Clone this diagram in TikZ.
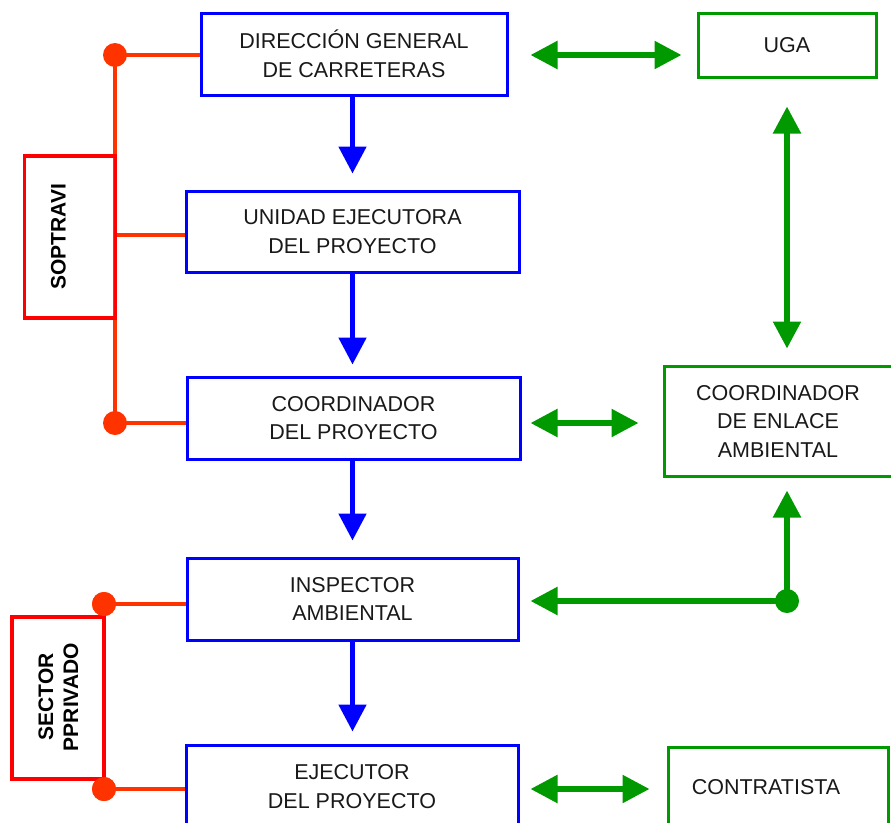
\documentclass[tikz,border=0pt]{standalone}
\usepackage{fontspec}
\setmainfont{Liberation Sans}
\usetikzlibrary{arrows.meta,calc}
\definecolor{flowblue}{RGB}{0,0,255}
\definecolor{envgreen}{RGB}{0,153,0}
\definecolor{linkred}{RGB}{255,51,0}
\definecolor{groupred}{RGB}{255,0,0}
\tikzset{
  boxtext/.style={font=\fontsize{21.5}{28.5}\selectfont, text=black!90, align=center, inner sep=0pt},
  bluebox/.style={boxtext, draw=flowblue, line width=3pt, rectangle},
  greenbox/.style={boxtext, draw=envgreen, line width=3pt, rectangle},
  groupbox/.style={draw=groupred, line width=3.5pt, rectangle, inner sep=0pt},
  grouptext/.style={font=\fontsize{21}{25}\selectfont\bfseries, text=black, align=center, rotate=90, inner sep=0pt},
  reddot/.style={circle, fill=linkred, minimum size=24pt, inner sep=0pt},
  greendot/.style={circle, fill=envgreen, minimum size=24pt, inner sep=0pt},
  redlink/.style={draw=linkred, line width=4pt},
  downflow/.style={draw=flowblue, line width=5pt, -{Triangle[length=27pt,width=27pt]}},
  envflow/.style={draw=envgreen, line width=5.5pt, -{Triangle[length=27pt,width=27pt]}},
  envboth/.style={draw=envgreen, line width=5.5pt, {Triangle[length=27pt,width=27pt]}-{Triangle[length=27pt,width=27pt]}},
}
\begin{document}
\begin{tikzpicture}[x=1pt,y=-1pt]
\useasboundingbox (0,0) rectangle (891,822);
\clip (0,0) rectangle (891,822);
\fill[white] (0,0) rectangle (891,822);

% main chain of the project
\node[bluebox, minimum width=306pt, minimum height=82pt] (dg) at (354,54) {DIRECCIÓN GENERAL\\DE CARRETERAS};
\node[bluebox, minimum width=333pt, minimum height=81pt] (uep) at (352.5,231.5) {UNIDAD EJECUTORA\\DEL PROYECTO};
\node[bluebox, minimum width=333pt, minimum height=82pt] (cp) at (353.5,418) {COORDINADOR\\DEL PROYECTO};
\node[bluebox, minimum width=331pt, minimum height=82pt] (ia) at (352.5,599) {INSPECTOR\\AMBIENTAL};
\node[bluebox, minimum width=332pt, minimum height=83pt] (ep) at (352,786.5) {EJECUTOR\\DEL PROYECTO};

% environmental side
\node[greenbox, minimum width=178pt, minimum height=64pt] (uga) at (787,45) {UGA};
\node[greenbox, minimum width=228pt, minimum height=110pt] (cea) at (778,421) {COORDINADOR\\DE ENLACE\\AMBIENTAL};
\node[greenbox, minimum width=220pt, minimum height=80pt,
      label={[boxtext, xshift=-12pt]center:CONTRATISTA}] (con) at (778,787) {};

% downward flow
\draw[downflow, shorten >=16pt] (dg.south -| uep.north) -- (uep.north);
\draw[downflow, shorten >=11pt] (uep.south) -- (uep.south |- cp.north);
\draw[downflow, shorten >=16pt] (uep.south |- cp.south) -- (uep.south |- ia.north);
\draw[downflow, shorten >=12pt] (uep.south |- ia.south) -- (uep.south |- ep.north);

% environmental links
\coordinate (dgr) at ($(dg.east)+(0,1)$);
\draw[envboth, shorten <=22pt, shorten >=15pt] (dgr) -- (dgr -| uga.west);
\draw[envboth, shorten <=28pt, shorten >=16pt] (uga.south) -- (uga.south |- cea.north);
\coordinate (cpr) at ($(cp.east)+(0,5)$);
\draw[envboth, shorten <=9pt, shorten >=24pt] (cpr) -- (cpr -| cea.west);
\node[greendot] (gd) at (787,601) {};
\draw[envflow, shorten >=11pt] (gd.center) -- (gd.center -| ia.east);
\draw[envflow, shorten >=13pt] (gd.center) -- (gd.center |- cea.south);
\coordinate (epr) at ($(ep.east)+(0,2.5)$);
\draw[envboth, shorten <=11pt, shorten >=17pt] (epr) -- (epr -| con.west);

% SOPTRAVI group
\node[reddot] (r1) at (115,55) {};
\node[reddot] (r2) at (115,423) {};
\draw[redlink] (r1.center) -- (r2.center);
\draw[redlink] (r1.center) -- (r1.center -| dg.west);
\draw[redlink] (115,235) coordinate (rm) -- (rm -| uep.west);
\draw[redlink] (r2.center) -- (r2.center -| cp.west);
\node[groupbox, minimum width=91pt, minimum height=162pt] (sop) at (70,237) {};
\node[grouptext] (soptxt) at (58.5,237) {SOPTRAVI};

% private sector group
\node[reddot] (s1) at (104,604) {};
\node[reddot] (s2) at (104,789) {};
\draw[redlink] (s1.center) -- (s1.center -| ia.west);
\draw[redlink] (s2.center) -- (s2.center -| ep.west);
\node[groupbox, minimum width=92pt, minimum height=162pt] (sec) at (58,698) {};
\node[grouptext] (sectxt) at (58.5,697) {SECTOR\\PPRIVADO};
\fill[linkred] (s1) circle (12pt);
\fill[linkred] (s2) circle (12pt);
\end{tikzpicture}
\end{document}
